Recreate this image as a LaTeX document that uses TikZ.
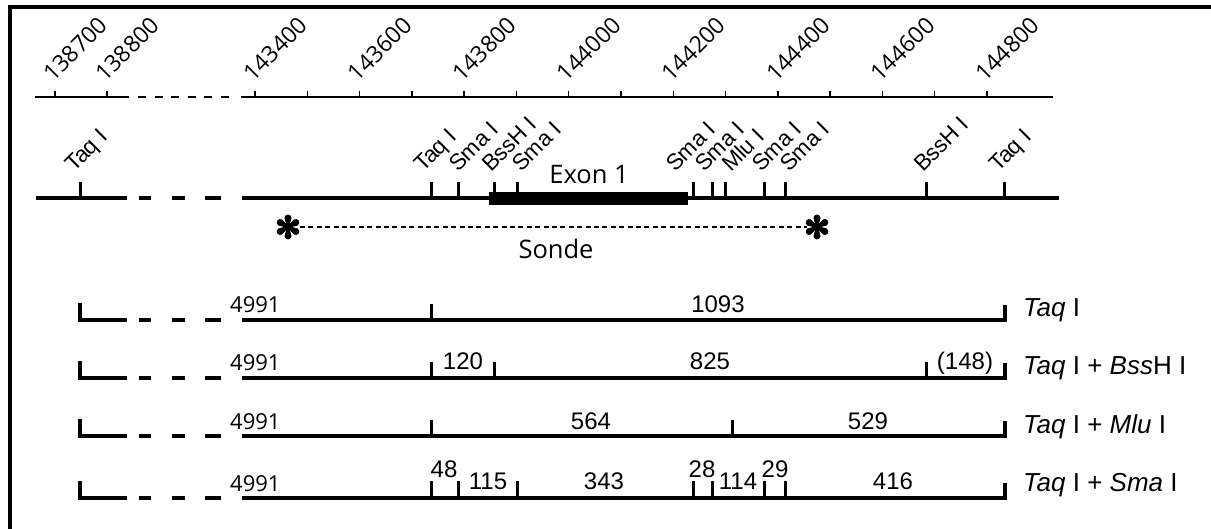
\documentclass[tikz,border=0pt]{standalone}
\usepackage{fontspec}
\usetikzlibrary{calc}
\setmainfont{Liberation Sans}
\newfontfamily\humsans{Open Sans}
\begin{document}
\begin{tikzpicture}[x=1pt,y=-1pt,
  thinline/.style={line width=1.4pt},
  bar/.style={line width=4.2pt},
  cut/.style={line width=3pt},
  axlabel/.style={font=\humsans\fontsize{23}{23}\selectfont, rotate=45, anchor=base west, inner sep=0pt},
  sitelabel/.style={font=\fontsize{22.5}{22.5}\selectfont, rotate=45, anchor=base west, inner sep=0pt},
  frag/.style={font=\fontsize{24}{24}\selectfont, anchor=base, inner sep=0pt},
  total/.style={font=\humsans\fontsize{22}{22}\selectfont, anchor=base west, inner sep=0pt},
  digest/.style={font=\fontsize{26}{26}\selectfont, anchor=base west, inner sep=0pt},
  title/.style={font=\humsans\fontsize{25.5}{25.5}\selectfont, anchor=base, inner sep=0pt}]
\useasboundingbox (0,0) rectangle (1211,529);

% frame
\draw[line width=4pt] (10,540) -- (10,7) -- (1220,7);

% coordinate axis
\draw[thinline] (35,97) -- (129,97);
\draw[thinline, dash pattern=on 8pt off 8.5pt] (138,97) -- (235,97);
\draw[thinline] (241,97) -- (1053,97);
\foreach \x in {55,107} \draw[thinline] (\x,97) -- (\x,91);
\foreach \i in {0,...,14} \draw[thinline] ({255+52.29*\i},97) -- ({255+52.29*\i},91);
\foreach \x/\t [count=\k] in {55/138700, 107/138800, 255/143400, 359.6/143600,
    464.2/143800, 568.7/144000, 673.3/144200, 778/144400, 882.5/144600, 987/144800}
  \node[axlabel] (ax\k) at (\x-2,83) {\t};

% restriction map
\draw[bar] (36,198) -- (127,198);
\foreach \a/\b in {139/151, 172/185, 205/221} \draw[bar] (\a,198) -- (\b,198);
\draw[bar] (242,198) -- (1059,198);
\fill (489,192) rectangle (688,205);
\node[title] (exon) at (589,184) {Exon 1};
\foreach \x in {80,431,458,494,517,693,712,725,764,785,926,1004}
  \draw[cut] (\x,182) -- (\x,198);
\foreach \x/\t [count=\k] in {68/Taq I, 417/Taq I, 452/Sma I, 485/BssH I, 515/Sma I,
    669/Sma I, 698/Sma I, 725/Mlu I, 755/Sma I, 783/Sma I, 917/BssH I, 992/Taq I}
  \node[sitelabel] (site\k) at (\x+6,173) {\t};

% probe
\coordinate (astL) at (288,227);
\coordinate (astR) at (817,227);
\draw[thinline, dash pattern=on 5pt off 3.4pt] ($(astL)+(12,0)$) -- ($(astR)+(-10,0)$);
\foreach \c in {astL,astR}
  \foreach \a in {30,90,150,210,270,330}
    \fill[shift={(\c)}, rotate=\a] (0,-1) -- (9,-3.5) arc (-90:90:3.5) -- (0,1) -- cycle;
\node[title] (probe) at (556,259) {Sonde};

% digestion fragments
\foreach \y/\n in {320/1, 378/2, 436/3, 498/4} {
  \draw[bar] (80,\y-17) -- (80,\y) -- (127,\y);
  \foreach \a/\b in {139/151, 172/185, 205/221} \draw[bar] (\a,\y) -- (\b,\y);
  \draw[bar] (242,\y) -- (1005,\y) -- (1005,\y-15);
  \node[total] (tot\n) at (230,\y-7) {4991};
}
\foreach \x in {431} \draw[cut] (\x,304) -- (\x,320);
\foreach \x in {431,494,926} \draw[cut] (\x,362) -- (\x,378);
\foreach \x in {431,732} \draw[cut] (\x,420) -- (\x,436);
\foreach \x in {431,458,517,693,712,764,785} \draw[cut] (\x,481) -- (\x,498);

\node[frag] (f1a) at (718,313) {1093};
\node[frag] (f2a) at (463,370) {120};
\node[frag] (f2b) at (710,370) {825};
\node[frag] (f2c) at (965,370) {(148)};
\node[frag] (f3a) at (591,430) {564};
\node[frag] (f3b) at (868,430) {529};
\node[frag] (f4a) at (444,477) {48};
\node[frag] (f4b) at (488,489) {115};
\node[frag] (f4c) at (604,489) {343};
\node[frag] (f4d) at (702,477) {28};
\node[frag] (f4e) at (738,489) {114};
\node[frag] (f4f) at (775,477) {29};
\node[frag] (f4g) at (893,489) {416};

\node[digest] (d1) at (1023,317) {\textit{Taq} I};
\node[digest] (d2) at (1023,375) {\textit{Taq} I + \textit{Bss}H I};
\node[digest] (d3) at (1023,434) {\textit{Taq} I + \textit{Mlu} I};
\node[digest] (d4) at (1023,491) {\textit{Taq} I + \textit{Sma} I};
\end{tikzpicture}
\end{document}
